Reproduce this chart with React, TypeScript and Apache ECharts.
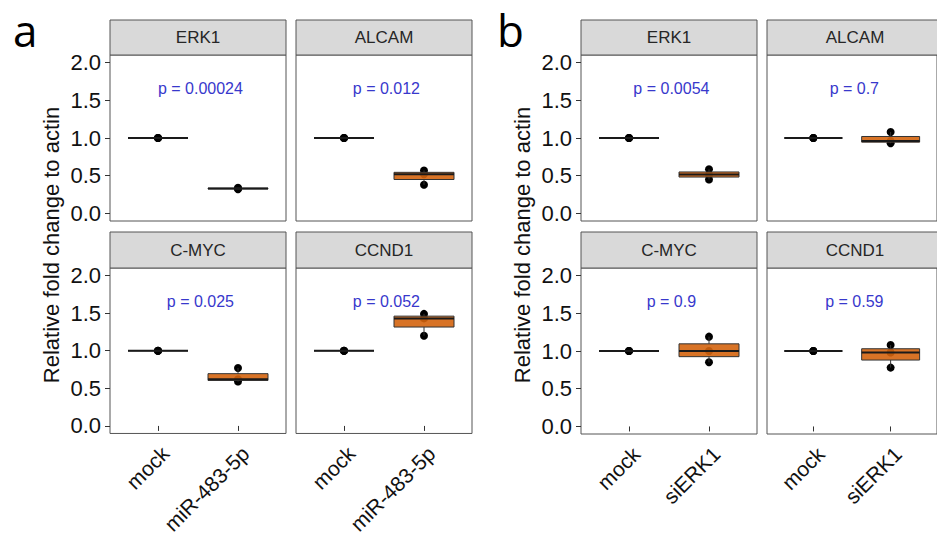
import React, { useEffect, useRef } from "react";
import * as echarts from "echarts";

// ---- data ----
const genes = ["ERK1", "ALCAM", "C-MYC", "CCND1"];
const figureLetters = ["a", "b"];
const controlName = "mock";
const treatmentNames = ["miR-483-5p", "siERK1"];
const mockValues = [1.0, 1.0, 1.0];
const treatAValues = [
  [0.32, 0.33, 0.34],
  [0.38, 0.52, 0.57],
  [0.59, 0.62, 0.77],
  [1.2, 1.43, 1.49],
];
const treatBValues = [
  [0.45, 0.515, 0.585],
  [0.93, 0.96, 1.08],
  [0.85, 1.0, 1.19],
  [0.78, 0.98, 1.08],
];
const pLabelsA = ["p = 0.00024", "p = 0.012", "p = 0.025", "p = 0.052"];
const pLabelsB = ["p = 0.0054", "p = 0.7", "p = 0.9", "p = 0.59"];
const yTicks = [0, 0.5, 1, 1.5, 2];
const xTicks = [1, 2];
const yTitle = "Relative fold change to actin";

// ---- layout / style ----
const FONT = "Liberation Sans, Arial, sans-serif";
const colLeft = [110, 296, 581, 767];
const rowTop = [55, 268];
const stripH = [35, 36];
const panelW = 176;
const panelH = 166;
const labelPos = { x: 1.53, y: 1.65 };
const BOX_FILL = "rgba(212,100,14,0.9)";

function quantile(sorted: number[], p: number) {
  const h = (sorted.length - 1) * p;
  const lo = Math.floor(h);
  const hi = Math.ceil(h);
  return sorted[lo] + (h - lo) * (sorted[hi] - sorted[lo]);
}

function boxStats(x: number, vals: number[]) {
  const s = [...vals].sort((a, b) => a - b);
  const q1 = quantile(s, 0.25);
  const med = quantile(s, 0.5);
  const q3 = quantile(s, 0.75);
  const iqr = q3 - q1;
  const lo = Math.min(...s.filter((v) => v >= q1 - 1.5 * iqr));
  const hi = Math.max(...s.filter((v) => v <= q3 + 1.5 * iqr));
  return [x, lo, q1, med, q3, hi];
}

function buildOption() {
  const grid: any[] = [];
  const xAxis: any[] = [];
  const yAxis: any[] = [];
  const series: any[] = [];
  const graphic: any[] = [];
  let gi = 0;
  for (let f = 0; f < 2; f++) {
    const treatVals = f === 0 ? treatAValues : treatBValues;
    const pLabels = f === 0 ? pLabelsA : pLabelsB;
    const treat = treatmentNames[f];
    for (let g = 0; g < genes.length; g++) {
      const col = f * 2 + (g % 2);
      const row = Math.floor(g / 2);
      const isLeft = g % 2 === 0;
      const isBottom = row === 1;
      const left = colLeft[col];
      const top = rowTop[row];
      grid.push({
        left,
        top,
        width: panelW,
        height: panelH,
        show: true,
        borderColor: "#555",
        borderWidth: 1,
        backgroundColor: "#fff",
        containLabel: false,
      });
      xAxis.push({
        type: "value",
        gridIndex: gi,
        min: 0.4,
        max: 2.6,
        splitLine: { show: false },
        axisLine: { show: false },
        axisTick: {
          show: isBottom,
          customValues: xTicks,
          length: 5,
          lineStyle: { color: "#333", width: 1 },
        },
        axisLabel: {
          show: isBottom,
          customValues: xTicks,
          formatter: (v: number) => (v === 1 ? controlName : treat),
          rotate: 45,
          fontSize: 21,
          fontFamily: FONT,
          color: "#111",
          margin: 9,
          verticalAlign: "top",
        },
      });
      yAxis.push({
        type: "value",
        gridIndex: gi,
        min: -0.1,
        max: 2.1,
        splitLine: { show: false },
        axisLine: { show: false },
        axisTick: {
          show: isLeft,
          customValues: yTicks,
          length: 5,
          lineStyle: { color: "#333", width: 1 },
        },
        axisLabel: {
          show: isLeft,
          customValues: yTicks,
          formatter: (v: number) => v.toFixed(1),
          fontSize: 22,
          fontFamily: FONT,
          color: "#111",
          margin: 9,
        },
      });
      const pts: number[][] = [];
      mockValues.forEach((v) => pts.push([1, v]));
      treatVals[g].forEach((v) => pts.push([2, v]));
      series.push({
        type: "scatter",
        xAxisIndex: gi,
        yAxisIndex: gi,
        data: pts,
        symbolSize: 8,
        itemStyle: { color: "#000", opacity: 1 },
        z: 1,
        silent: true,
      });
      series.push({
        type: "custom",
        xAxisIndex: gi,
        yAxisIndex: gi,
        z: 3,
        silent: true,
        data: [boxStats(1, mockValues), boxStats(2, treatVals[g])],
        encode: { x: 0, y: [1, 2, 3, 4, 5] },
        renderItem: (params: any, api: any) => {
          const x = api.value(0);
          const lo = api.value(1);
          const q1 = api.value(2);
          const med = api.value(3);
          const q3 = api.value(4);
          const hi = api.value(5);
          const hw = 0.375;
          const pTL = api.coord([x - hw, q3]);
          const pBR = api.coord([x + hw, q1]);
          const pMed = api.coord([x, med]);
          const pLo = api.coord([x, lo]);
          const pHi = api.coord([x, hi]);
          const isMock = params.dataIndex === 0;
          return {
            type: "group",
            children: [
              {
                type: "line",
                shape: { x1: pMed[0], y1: pTL[1], x2: pMed[0], y2: pHi[1] },
                style: { stroke: "#333", lineWidth: 1 },
              },
              {
                type: "line",
                shape: { x1: pMed[0], y1: pBR[1], x2: pMed[0], y2: pLo[1] },
                style: { stroke: "#333", lineWidth: 1 },
              },
              {
                type: "rect",
                shape: {
                  x: pTL[0],
                  y: pTL[1],
                  width: pBR[0] - pTL[0],
                  height: Math.max(pBR[1] - pTL[1], 0.01),
                },
                style: {
                  fill: isMock ? "rgba(255,255,255,0)" : BOX_FILL,
                  stroke: "#333",
                  lineWidth: 1,
                },
              },
              {
                type: "line",
                shape: { x1: pTL[0], y1: pMed[1], x2: pBR[0], y2: pMed[1] },
                style: { stroke: "#1a1a1a", lineWidth: 2 },
              },
            ],
          };
        },
      });
      series.push({
        type: "custom",
        xAxisIndex: gi,
        yAxisIndex: gi,
        z: 4,
        silent: true,
        data: [[labelPos.x, labelPos.y]],
        renderItem: (params: any, api: any) => {
          const p = api.coord([api.value(0), api.value(1)]);
          return {
            type: "text",
            x: p[0],
            y: p[1],
            style: {
              text: pLabels[g],
              fill: "#3838cc",
              font: `16px ${FONT}`,
              align: "center",
              verticalAlign: "middle",
            },
          };
        },
      });
      // strip
      const sh = stripH[row];
      graphic.push({
        type: "rect",
        shape: { x: left, y: top - sh, width: panelW, height: sh },
        style: { fill: "#d9d9d9", stroke: "#555", lineWidth: 1 },
        z: 10,
      });
      graphic.push({
        type: "text",
        x: left + panelW / 2,
        y: top - sh / 2,
        style: {
          text: genes[g],
          font: `17px ${FONT}`,
          fill: "#262626",
          align: "center",
          verticalAlign: "middle",
          textAlign: "center",
          textVerticalAlign: "middle",
        },
        z: 11,
      });
      gi++;
    }
    // y title
    graphic.push({
      type: "text",
      x: colLeft[f * 2] - 58.5,
      y: 245,
      rotation: Math.PI / 2,
      style: {
        text: yTitle,
        font: `22px ${FONT}`,
        fill: "#111",
        align: "center",
        verticalAlign: "middle",
        textAlign: "center",
        textVerticalAlign: "middle",
      },
      z: 11,
    });
    // figure letter
    graphic.push({
      type: "text",
      x: f === 0 ? 13 : 497,
      y: 30,
      style: {
        text: figureLetters[f],
        font: `44px Open Sans, Noto Sans, sans-serif`,
        fill: "#000",
        align: "left",
        verticalAlign: "middle",
        textAlign: "left",
        textVerticalAlign: "middle",
      },
      z: 11,
    });
  }
  return {
    animation: false,
    backgroundColor: "#fff",
    grid,
    xAxis,
    yAxis,
    series,
    graphic,
  };
}

export default function App() {
  const ref = useRef<HTMLDivElement>(null);
  useEffect(() => {
    if (!ref.current) return;
    const chart = echarts.init(ref.current, undefined, { renderer: "svg" });
    chart.setOption(buildOption() as any);
    return () => chart.dispose();
  }, []);
  return (
    <div
      ref={ref}
      style={{ position: "fixed", left: 0, top: 0, width: 937, height: 537, background: "#fff" }}
    />
  );
}
